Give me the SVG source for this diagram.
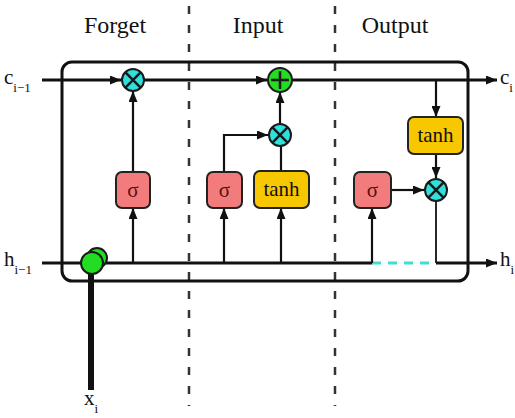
<svg xmlns="http://www.w3.org/2000/svg" width="515" height="418" viewBox="0 0 515 418">
<style>
text{font-family:"Liberation Serif","DejaVu Serif","Times New Roman",serif;fill:#111}
.title{font-size:24px}
.lbl{font-size:21px}
.sub{font-size:13px}
.sg{fill:#5a1010}
.sig{fill:#f27c7c;stroke:#222;stroke-width:2}
.tanh{fill:#f7c800;stroke:#222;stroke-width:2}
.mul{fill:#2fe0dc;stroke:#1a1a1a;stroke-width:2}
.add{fill:#22dd22;stroke:#1a1a1a;stroke-width:2}
.w{stroke:#111;fill:none}
.thick{stroke-width:3}
.thin{stroke-width:2.2}
.div{stroke:#333;stroke-width:2.5;stroke-dasharray:8 11;fill:none}
</style>
<defs>
<marker id="ah" markerUnits="userSpaceOnUse" markerWidth="12" markerHeight="9" refX="11" refY="4.5" orient="auto">
<path d="M0,0 L11,4.5 L0,9 z" fill="#111"/>
</marker>
</defs>
<rect width="515" height="418" fill="#fff"/>

<g id="dividers">
<line class="div" x1="189" y1="6" x2="189" y2="406"/>
<line class="div" x1="335" y1="6" x2="335" y2="406"/>
</g>

<g id="titles" font-family="Liberation Serif, serif">
<text class="title" x="115" y="33" text-anchor="middle">Forget</text>
<text class="title" x="258" y="33" text-anchor="middle">Input</text>
<text class="title" x="395" y="33" text-anchor="middle">Output</text>
</g>

<g id="cell">
<rect x="62" y="62" width="406" height="219" rx="10" fill="none" stroke="#111" stroke-width="3"/>
</g>

<g id="connectors">
<path class="w thick" d="M42,80 H121" marker-end="url(#ah)"/>
<path class="w thick" d="M144,80 H267" marker-end="url(#ah)"/>
<path class="w thick" d="M292,80 H497" marker-end="url(#ah)"/>
<path class="w thick" d="M42,263 H372"/>
<path d="M372,263 H436" stroke="#3de0d0" stroke-width="3" stroke-dasharray="9 7" fill="none"/>
<path class="w thick" d="M436,263 H497" marker-end="url(#ah)"/>
<path class="w thin" d="M133,263 V208" marker-end="url(#ah)"/>
<path class="w thin" d="M133,172 V91" marker-end="url(#ah)"/>
<path class="w thin" d="M224,263 V208" marker-end="url(#ah)"/>
<path class="w thin" d="M224,172 V135 H268" marker-end="url(#ah)"/>
<path class="w thin" d="M281,263 V208" marker-end="url(#ah)"/>
<path class="w thin" d="M281,171 V146"/>
<path class="w thin" d="M280,124 V92" marker-end="url(#ah)"/>
<path class="w thin" d="M372,263 V208" marker-end="url(#ah)"/>
<path class="w thin" d="M392,190 H424" marker-end="url(#ah)"/>
<path class="w thin" d="M436,80 V117" marker-end="url(#ah)"/>
<path class="w thin" d="M436,154 V178" marker-end="url(#ah)"/>
<path class="w" stroke-width="1.8" d="M436,201 V263"/>
<path class="w" stroke-width="6" d="M91,390 V268"/>
</g>

<g id="concat">
<circle class="add" cx="97" cy="258" r="10"/>
<circle class="add" cx="92" cy="263" r="11"/>
</g>

<g id="forget-mul">
<circle class="mul" cx="133" cy="80" r="11"/>
<path d="M125.2,72.2 L140.8,87.8 M140.8,72.2 L125.2,87.8" stroke="#1a1a1a" stroke-width="2.5"/>
</g>
<g id="forget-sigma">
<rect class="sig" x="116" y="172" width="34" height="36" rx="6"/>
<text class="lbl sg" x="133" y="197" text-anchor="middle">σ</text>
</g>

<g id="input-add">
<circle class="add" cx="280" cy="80" r="12"/>
<path d="M280,71 V89 M271,80 H289" stroke="#1a1a1a" stroke-width="2.5"/>
</g>
<g id="input-mul">
<circle class="mul" cx="280" cy="135" r="11"/>
<path d="M272.2,127.2 L287.8,142.8 M287.8,127.2 L272.2,142.8" stroke="#1a1a1a" stroke-width="2.5"/>
</g>
<g id="input-sigma">
<rect class="sig" x="207" y="172" width="35" height="36" rx="6"/>
<text class="lbl sg" x="224.5" y="197" text-anchor="middle">σ</text>
</g>
<g id="input-tanh">
<rect class="tanh" x="254" y="171" width="55" height="37" rx="6"/>
<text class="lbl" x="281.5" y="196" text-anchor="middle">tanh</text>
</g>

<g id="output-sigma">
<rect class="sig" x="354" y="172" width="37" height="36" rx="6"/>
<text class="lbl sg" x="372.5" y="197" text-anchor="middle">σ</text>
</g>
<g id="output-tanh">
<rect class="tanh" x="408" y="117" width="55" height="37" rx="6"/>
<text class="lbl" x="435.5" y="142" text-anchor="middle">tanh</text>
</g>
<g id="output-mul">
<circle class="mul" cx="436" cy="190" r="11"/>
<path d="M428.2,182.2 L443.8,197.8 M443.8,182.2 L428.2,197.8" stroke="#1a1a1a" stroke-width="2.5"/>
</g>

<g id="labels">
<text class="lbl" x="4" y="84">c<tspan class="sub" dy="8">i−1</tspan></text>
<text class="lbl" x="4" y="266">h<tspan class="sub" dy="8">i−1</tspan></text>
<text class="lbl" x="500" y="84">c<tspan class="sub" dy="8">i</tspan></text>
<text class="lbl" x="500" y="266">h<tspan class="sub" dy="8">i</tspan></text>
<text class="lbl" x="84" y="405">x<tspan class="sub" dy="8">i</tspan></text>
</g>
</svg>
